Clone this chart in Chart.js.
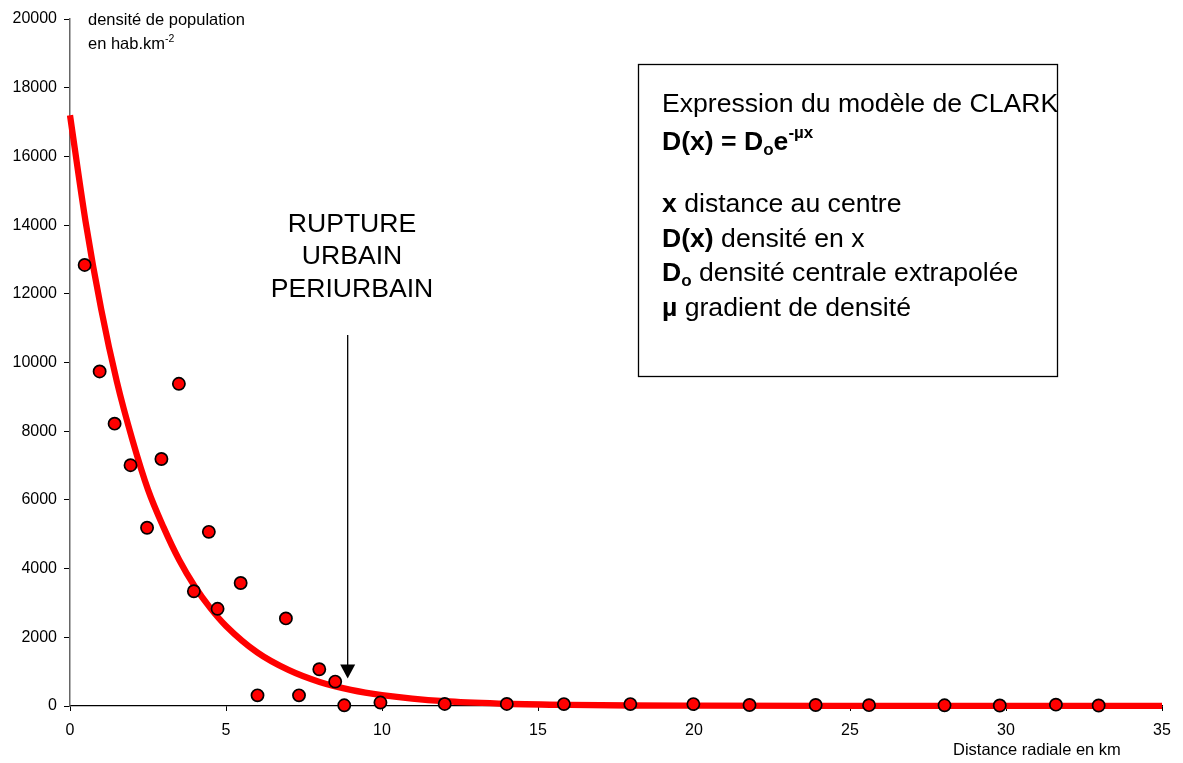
<!DOCTYPE html>
<html><head><meta charset="utf-8">
<script src="https://cdn.jsdelivr.net/npm/chart.js@4/dist/chart.umd.min.js"></script>
<style>html,body{margin:0;padding:0;background:#fff;} #wrap{width:1183px;height:763px;position:relative;}</style>
</head><body><div id="wrap"><canvas id="c"></canvas></div>
<script>
// Observed densities (hab/km²) vs radial distance (km)
const obsX = [0.47,0.95,1.43,1.94,2.47,2.93,3.49,3.97,4.45,4.73,5.47,6.01,6.92,7.34,7.99,8.5,8.79,9.95,12.01,14.0,15.83,17.96,19.98,21.78,23.9,25.61,28.03,29.8,31.6,32.97];
const obsY = [12840,9740,8220,7010,5190,7190,9380,3340,5070,2830,3580,310,2550,310,1070,710,20,100,60,60,55,55,55,30,30,25,20,15,40,15];
// Clark model curve
const curveX = [0,0.5,1,1.5,2,2.5,3,3.5,4,4.5,5,6,7,8,9,10,12,14,16,18,20,25,30,35];
const curveY = [17200,14100,11550,9450,7750,6300,5200,4250,3480,2850,2330,1560,1050,700,470,320,140,65,30,15,10,5,3,2];
// Tick labels
const xTickValues = [0,5,10,15,20,25,30,35];
const yTickValues = [0,2000,4000,6000,8000,10000,12000,14000,16000,18000,20000];

const FONT = '"Liberation Sans", Arial, sans-serif';

function drawRuns(ctx, x, y, runs) {
  let cx = x;
  for (const r of runs) {
    ctx.font = r.font;
    ctx.fillText(r.t, cx, y + (r.dy || 0));
    cx += ctx.measureText(r.t).width;
  }
}

const annot = {
  id: 'annot',
  afterDraw(chart) {
    const ctx = chart.ctx;
    const xs = chart.scales.x, ys = chart.scales.y;
    ctx.save();
    ctx.fillStyle = '#000';
    ctx.textBaseline = 'alphabetic';
    ctx.textAlign = 'left';
    // y axis title
    const f16 = '16.5px ' + FONT;
    ctx.font = f16;
    ctx.fillText('densité de population', 88, 25);
    drawRuns(ctx, 88, 49, [{t:'en hab.km', font:f16},{t:'-2', font:'10.5px ' + FONT, dy:-7}]);
    // x axis title
    ctx.font = f16;
    ctx.fillText('Distance radiale en km', 953, 755);

    // Model box
    ctx.strokeStyle = '#000';
    ctx.lineWidth = 1.3;
    ctx.strokeRect(638.5, 64.5, 419, 312);
    const R = '26.6px ' + FONT, B = 'bold 26.6px ' + FONT;
    const Bs = 'bold 17px ' + FONT;
    const L = 662;
    ctx.font = R;
    ctx.fillText('Expression du modèle de CLARK', L, 112);
    drawRuns(ctx, L, 150, [{t:'D(x) = D', font:B},{t:'o', font:Bs, dy:5},{t:'e', font:B},{t:'-µx', font:Bs, dy:-12}]);
    drawRuns(ctx, L, 212, [{t:'x', font:B},{t:' distance au centre', font:R}]);
    drawRuns(ctx, L, 247, [{t:'D(x)', font:B},{t:' densité en x', font:R}]);
    drawRuns(ctx, L, 281, [{t:'D', font:B},{t:'o', font:Bs, dy:5},{t:' densité centrale extrapolée', font:R}]);
    drawRuns(ctx, L, 316, [{t:'µ', font:B},{t:' gradient de densité', font:R}]);

    // Rupture label
    ctx.textAlign = 'center';
    ctx.font = R;
    ctx.fillText('RUPTURE', 352, 232);
    ctx.fillText('URBAIN', 352, 264);
    ctx.fillText('PERIURBAIN', 352, 297);

    // Arrow
    const ax = xs.getPixelForValue(8.9);
    const aTop = 335, aTip = ys.getPixelForValue(800);
    ctx.beginPath();
    ctx.lineWidth = 1.3;
    ctx.moveTo(ax, aTop);
    ctx.lineTo(ax, aTip - 10);
    ctx.stroke();
    ctx.beginPath();
    ctx.moveTo(ax - 7.5, aTip - 14);
    ctx.lineTo(ax + 7.5, aTip - 14);
    ctx.lineTo(ax, aTip);
    ctx.closePath();
    ctx.fill();
    ctx.restore();
  }
};

new Chart(document.getElementById('c'), {
  type: 'scatter',
  data: {
    datasets: [
      {
        label: 'Densité observée',
        data: obsX.map((x, i) => ({x, y: obsY[i]})),
        backgroundColor: '#ff0000',
        borderColor: '#000',
        borderWidth: 1.7,
        pointRadius: 6.1,
        order: 0,
        clip: false
      },
      {
        type: 'line',
        label: 'Modèle de Clark',
        data: curveX.map((x, i) => ({x, y: curveY[i]})),
        borderColor: '#ff0000',
        borderWidth: 6.3,
        pointRadius: 0,
        fill: false,
        cubicInterpolationMode: 'monotone',
        order: 1,
        clip: false
      }
    ]
  },
  options: {
    responsive: true,
    maintainAspectRatio: false,
    animation: false,
    layout: { padding: { left: 0, right: 21, top: 19, bottom: 0 } },
    plugins: { legend: { display: false }, tooltip: { enabled: false } },
    scales: {
      x: {
        type: 'linear', min: 0, max: 35,
        afterBuildTicks: s => { s.ticks = xTickValues.map(v => ({value: v})); },
        afterFit: s => { s.height = 57; },
        border: { display: true, color: '#000', width: 1.3 },
        grid: { display: true, drawOnChartArea: false, drawTicks: true, tickLength: 5, color: '#000', lineWidth: 1 },
        ticks: { color: '#000', font: { family: FONT, size: 16 }, padding: 10, maxRotation: 0, autoSkip: false }
      },
      y: {
        type: 'linear', min: 0, max: 20000,
        afterBuildTicks: s => { s.ticks = yTickValues.map(v => ({value: v})); },
        afterFit: s => { s.width = 70; },
        border: { display: true, color: '#666', width: 1.5 },
        grid: { display: true, drawOnChartArea: false, drawTicks: true, tickLength: 6, color: '#000', lineWidth: 1 },
        ticks: { color: '#000', font: { family: FONT, size: 16 }, padding: 7, autoSkip: false, callback: v => String(v) }
      }
    }
  },
  plugins: [annot]
});
</script>
</body></html>
